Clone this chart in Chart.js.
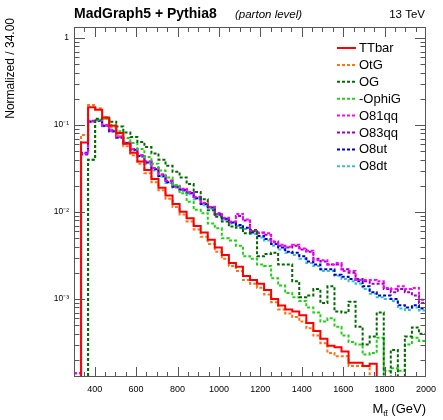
<!DOCTYPE html>
<html>
<head>
<meta charset="utf-8">
<script src="https://cdn.jsdelivr.net/npm/chart.js@4.4.0/dist/chart.umd.min.js"></script>
<style>
  html, body { margin: 0; padding: 0; background: #fff; }
  #stage { display: block; width: 443px; height: 420px; }
</style>
</head>
<body>
<canvas id="stage" width="443" height="420"></canvas>
<script>
// 50 bins of 34 GeV from 300 to 2000 GeV
var BIN_LO = 300, BIN_W = 34, N_BINS = 50;
var X_TICKS = [400, 600, 800, 1000, 1200, 1400, 1600, 1800, 2000];
var Y_TICKS = [0.001, 0.01, 0.1, 1];
var Y_TICK_LABELS = ['10\u207B\u00B3', '10\u207B\u00B2', '10\u207B\u00B9', '1'];
var Y_MIN = 1.27e-4, Y_MAX = 1.34;

var labels = ['TTbar', 'OtG', 'OG', '-OphiG', 'O81qq', 'O83qq', 'O8ut', 'O8dt'];

var ttbar = [0, 0.063, 0.160, 0.150, 0.122, 0.098, 0.081, 0.061, 0.048, 0.038,
  0.0305, 0.024, 0.019, 0.0155, 0.0124, 0.0101, 0.0085, 0.0069, 0.0058, 0.0048,
  0.0039, 0.0032, 0.0026, 0.00235, 0.00184, 0.00166, 0.0015, 0.00127, 0.001, 0.00084,
  0.00076, 0.00072, 0.00065, 0.00053, 0.00043, 0.00035, 0.00029, 0.00028, 0.00025, 0.000185,
  0.000185, 0.00017, 0.00018, 0, 0, 0, 0, 0, 0, 0];
var otg = [0, 0.077, 0.170, 0.156, 0.118, 0.094, 0.076, 0.057, 0.045, 0.036,
  0.028, 0.022, 0.0178, 0.0142, 0.0114, 0.0094, 0.0078, 0.0063, 0.0052, 0.0043,
  0.0035, 0.0029, 0.0024, 0.0021, 0.00165, 0.0015, 0.00135, 0.00113, 0.00092, 0.00076,
  0.00068, 0.00062, 0.00055, 0.00046, 0.00038, 0.00031, 0.00024, 0.00022, 0.00022, 0.00017,
  0.00017, 0.00017, 0, 0, 0, 0, 0, 0, 0, 0];
var og = [0, 0, 0.040, 0.118, 0.122, 0.109, 0.096, 0.082, 0.073, 0.064,
  0.056, 0.047, 0.040, 0.034, 0.029, 0.025, 0.021, 0.017, 0.014, 0.0105,
  0.0088, 0.0078, 0.0068, 0.0066, 0.0057, 0.0060, 0.0031, 0.0033, 0.0034, 0.0025,
  0.0025, 0.0016, 0.00105, 0.0011, 0.0013, 0.0009, 0.0014, 0.00072, 0.0007, 0.00093,
  0.00048, 0.0003, 0.00037, 0.0007, 0, 0.00026, 0, 0.00037, 0.00047, 0.0004];
var ophig = [0, 0, 0.040, 0.115, 0.118, 0.100, 0.085, 0.071, 0.062, 0.053,
  0.043, 0.036, 0.030, 0.025, 0.0205, 0.0164, 0.0131, 0.0106, 0.0097, 0.0074,
  0.0065, 0.0050, 0.0047, 0.0041, 0.0031, 0.0029, 0.0025, 0.0024, 0.00173, 0.00143,
  0.00117, 0.00105, 0.00095, 0.0008, 0.0007, 0.00055, 0.0006, 0.00048, 0.00038, 0.00032,
  0.0003, 0.00023, 0.00024, 0.00036, 0.00015, 0.00016, 0.00015, 0.0003, 0.00036, 0.00033];
var o81qq = [0.00014, 0.047, 0.110, 0.115, 0.100, 0.086, 0.073, 0.063, 0.053, 0.045,
  0.038, 0.032, 0.027, 0.023, 0.020, 0.0185, 0.017, 0.015, 0.0128, 0.0115,
  0.0095, 0.0086, 0.0078, 0.0095, 0.0082, 0.0060, 0.0057, 0.0057, 0.0045, 0.0042,
  0.0040, 0.0042, 0.0038, 0.0036, 0.0028, 0.0028, 0.0025, 0.0026, 0.0021, 0.0021,
  0.00166, 0.00166, 0.00166, 0.0016, 0.00134, 0.0013, 0.0014, 0.0013, 0.00134, 0.00098];
var o83qq = [0.00014, 0.046, 0.112, 0.114, 0.099, 0.087, 0.074, 0.062, 0.053, 0.045,
  0.038, 0.032, 0.027, 0.0228, 0.0198, 0.0182, 0.0168, 0.0148, 0.0127, 0.0114,
  0.0097, 0.0085, 0.0077, 0.0090, 0.0080, 0.0062, 0.0058, 0.0055, 0.0046, 0.0041,
  0.0039, 0.0041, 0.0037, 0.0035, 0.0029, 0.0027, 0.0025, 0.0025, 0.0022, 0.0020,
  0.0017, 0.0016, 0.0015, 0.0015, 0.0013, 0.0012, 0.0013, 0.0012, 0.0011, 0.0009];
var o8ut = [0, 0.048, 0.110, 0.112, 0.098, 0.085, 0.072, 0.062, 0.052, 0.044,
  0.037, 0.031, 0.026, 0.022, 0.0195, 0.018, 0.0165, 0.0144, 0.0124, 0.0113,
  0.0094, 0.0084, 0.0076, 0.0071, 0.0066, 0.0058, 0.0053, 0.0049, 0.0043, 0.0039,
  0.0035, 0.0034, 0.0031, 0.0027, 0.0025, 0.0022, 0.0022, 0.0019, 0.0018, 0.0017,
  0.0016, 0.0014, 0.0012, 0.0011, 0.0011, 0.0010, 0.00085, 0.0008, 0.00085, 0.00078];
var o8dt = [0, 0.047, 0.108, 0.113, 0.097, 0.084, 0.071, 0.061, 0.051, 0.043,
  0.036, 0.030, 0.0255, 0.0215, 0.019, 0.0175, 0.016, 0.014, 0.012, 0.011,
  0.0092, 0.0082, 0.0074, 0.0069, 0.0064, 0.0056, 0.0051, 0.0047, 0.0041, 0.0037,
  0.0034, 0.0032, 0.0029, 0.0026, 0.0024, 0.0021, 0.0021, 0.00185, 0.0017, 0.0016,
  0.0015, 0.0013, 0.00115, 0.00105, 0.001, 0.00095, 0.00078, 0.00075, 0.0008, 0.00074];

var series = [ttbar, otg, og, ophig, o81qq, o83qq, o8ut, o8dt];
var colors = ['#ff0000', '#ff7410', '#006b00', '#22d01a', '#ff00ff', '#9c00c0', '#0000cc', '#2ec4c8'];

var FONT = '"Liberation Sans", Arial, Helvetica, sans-serif';

// histogram outline: one point per left bin edge, plus the closing edge
function histPoints(vals) {
  var pts = vals.map(function (v, i) {
    return { x: BIN_LO + i * BIN_W, y: v > 0 ? v : Y_MIN };
  });
  var last = vals[vals.length - 1];
  pts.push({ x: BIN_LO + N_BINS * BIN_W, y: last > 0 ? last : Y_MIN });
  return pts;
}

var datasets = series.map(function (vals, i) {
  return {
    label: labels[i],
    data: histPoints(vals),
    borderColor: colors[i],
    borderWidth: 2,
    borderDash: i === 0 ? [] : [3, 2],
    stepped: true,
    pointRadius: 0,
    fill: false
  };
});

// frame with inward ticks on all four sides (ROOT style)
var frameTicks = {
  id: 'frameTicks',
  afterDatasetsDraw: function (chart) {
    var ctx = chart.ctx, a = chart.chartArea, x = chart.scales.x, y = chart.scales.y;
    ctx.save();
    ctx.strokeStyle = '#555';
    ctx.lineWidth = 1;
    ctx.setLineDash([]);
    ctx.strokeRect(Math.round(a.left) + 0.5, Math.round(a.top) + 0.5,
      Math.round(a.right - a.left) - 1, Math.round(a.bottom - a.top) - 1);
    ctx.beginPath();
    for (var v = 350; v < 2000; v += 50) {
      var px = Math.round(x.getPixelForValue(v)) + 0.5;
      var len = v % 200 === 0 ? 10 : 5;
      ctx.moveTo(px, a.bottom); ctx.lineTo(px, a.bottom - len);
      ctx.moveTo(px, a.top); ctx.lineTo(px, a.top + len);
    }
    for (var e = -4; e <= 0; e++) {
      for (var m = 1; m <= 9; m++) {
        var val = m * Math.pow(10, e);
        if (val < y.min || val > y.max) continue;
        var py = Math.round(y.getPixelForValue(val)) + 0.5;
        var l = m === 1 ? 11 : 5.5;
        ctx.moveTo(a.left, py); ctx.lineTo(a.left + l, py);
        ctx.moveTo(a.right, py); ctx.lineTo(a.right - l, py);
      }
    }
    ctx.stroke();
    ctx.restore();
  }
};

// titles, axis titles and legend
var decorations = {
  id: 'decorations',
  afterDraw: function (chart) {
    var ctx = chart.ctx, a = chart.chartArea;
    ctx.save();
    ctx.fillStyle = '#000';
    ctx.textBaseline = 'alphabetic';
    ctx.textAlign = 'left';
    ctx.font = 'bold 14px ' + FONT;
    ctx.fillText('MadGraph5 + Pythia8', a.left, 18);
    ctx.font = 'italic 11.5px ' + FONT;
    ctx.fillText('(parton level)', 235, 18);
    ctx.textAlign = 'right';
    ctx.font = '11.5px ' + FONT;
    ctx.fillText('13 TeV', a.right - 1, 18);

    // y axis title
    ctx.save();
    ctx.translate(14, 18);
    ctx.rotate(-Math.PI / 2);
    ctx.textAlign = 'right';
    ctx.font = '12px ' + FONT;
    ctx.fillText('Normalized / 34.00', 0, 0);
    ctx.restore();

    // x axis title: M_tt (GeV)
    ctx.textAlign = 'left';
    var big = '13px ' + FONT, small = '8px ' + FONT;
    ctx.font = big;
    var wM = ctx.measureText('M').width, wG = ctx.measureText(' (GeV)').width;
    ctx.font = small;
    var wS = ctx.measureText('tt').width;
    var x0 = a.right - (wM + wS + wG), base = 413;
    ctx.font = big;
    ctx.fillText('M', x0, base);
    ctx.font = small;
    ctx.fillText('tt', x0 + wM, base + 3);
    var wt = ctx.measureText('t').width;
    ctx.fillRect(x0 + wM + wt, base - 3, wt, 0.8);
    ctx.font = big;
    ctx.fillText(' (GeV)', x0 + wM + wS, base);

    // legend
    ctx.font = '13px ' + FONT;
    ctx.textBaseline = 'middle';
    chart.data.datasets.forEach(function (ds, i) {
      var ly = 48 + i * 16.9;
      ctx.beginPath();
      ctx.strokeStyle = ds.borderColor;
      ctx.lineWidth = 2;
      ctx.setLineDash(ds.borderDash);
      ctx.moveTo(337, ly);
      ctx.lineTo(356, ly);
      ctx.stroke();
      ctx.setLineDash([]);
      ctx.fillStyle = '#000';
      ctx.fillText(ds.label, 359, ly + 0.5);
    });
    ctx.restore();
  }
};

var myChart = new Chart(document.getElementById('stage').getContext('2d'), {
  type: 'line',
  data: { datasets: datasets },
  options: {
    responsive: false,
    animation: false,
    layout: { padding: { left: 0, right: 11, top: 27, bottom: 0 } },
    plugins: { legend: { display: false }, tooltip: { enabled: false } },
    scales: {
      x: {
        type: 'linear', min: BIN_LO, max: BIN_LO + N_BINS * BIN_W,
        grid: { display: false, drawTicks: false },
        border: { display: false },
        afterBuildTicks: function (s) { s.ticks = X_TICKS.map(function (v) { return { value: v }; }); },
        afterFit: function (s) { s.height = 43; },
        ticks: {
          autoSkip: false, maxRotation: 0, padding: 7, color: '#000',
          font: { family: FONT, size: 9 },
          callback: function (v) { return String(v); }
        }
      },
      y: {
        type: 'logarithmic', min: Y_MIN, max: Y_MAX,
        grid: { display: false, drawTicks: false },
        border: { display: false },
        afterBuildTicks: function (s) { s.ticks = Y_TICKS.map(function (v) { return { value: v }; }); },
        afterFit: function (s) { s.width = 74; },
        ticks: {
          autoSkip: false, padding: 5, color: '#000',
          font: { family: FONT, size: 8.5 },
          callback: function (v, i) { return Y_TICK_LABELS[i]; }
        }
      }
    }
  },
  plugins: [frameTicks, decorations]
});
</script>
</body>
</html>
